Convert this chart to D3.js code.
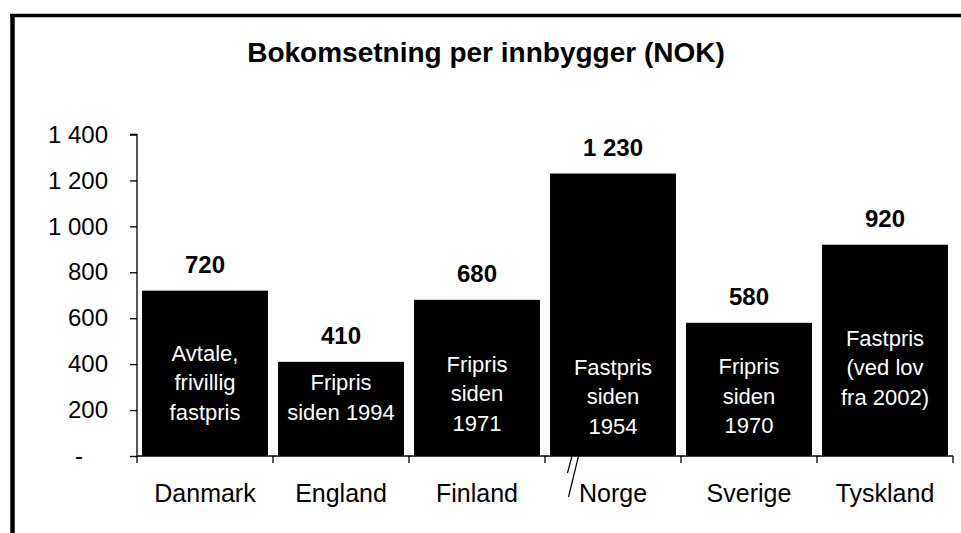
<!DOCTYPE html>
<html>
<head>
<meta charset="utf-8">
<script src="https://cdn.jsdelivr.net/npm/d3@7"></script>
<style>
	body { margin: 0; background: #fff; }
	text { font-family: "Liberation Sans", Arial, sans-serif; }
</style>
</head>
<body>
<script>
var countries = ['Danmark', 'England', 'Finland', 'Norge', 'Sverige', 'Tyskland'];
var sales = [720, 410, 680, 1230, 580, 920];
var valueLabels = ['720', '410', '680', '1 230', '580', '920'];
var notes = [
	['Avtale,', 'frivillig', 'fastpris'],
	['Fripris', 'siden 1994'],
	['Fripris', 'siden', '1971'],
	['Fastpris', 'siden', '1954'],
	['Fripris', 'siden', '1970'],
	['Fastpris', '(ved lov', 'fra 2002)']
];
// value (NOK) where the last line of each note sits
var noteBase = [157, 157, 109, 96, 100, 223];
var yTicks = [0, 200, 400, 600, 800, 1000, 1200, 1400];
var yTickLabels = ['-', '200', '400', '600', '800', '1 000', '1 200', '1 400'];
var title = 'Bokomsetning per innbygger (NOK)';

var width = 961, height = 533;
var svg = d3.select('body').append('svg')
	.attr('width', width).attr('height', height);

// frame (top + left only)
svg.append('line').attr('x1', 10).attr('x2', width).attr('y1', 15.5).attr('y2', 15.5)
	.attr('stroke', '#000').attr('stroke-width', 3.5);
svg.append('line').attr('x1', 12.5).attr('x2', 12.5).attr('y1', 14).attr('y2', height)
	.attr('stroke', '#000').attr('stroke-width', 4.5);

svg.append('text')
	.attr('x', 486).attr('y', 62)
	.attr('text-anchor', 'middle')
	.attr('font-size', 28).attr('font-weight', 'bold')
	.text(title);

var x = d3.scaleBand().domain(countries).range([137, 953])
	.paddingInner(0.074).paddingOuter(0.037);
var y = d3.scaleLinear().domain([0, 1400]).range([456, 134.5]);

// y axis
var yAxis = d3.axisLeft(y).tickValues(yTicks).tickSize(7).tickPadding(22)
	.tickFormat(function(d, i) { return yTickLabels[i]; });
var gy = svg.append('g').attr('transform', 'translate(137,0)').call(yAxis);
gy.select('.domain').attr('d', 'M-7,' + y(1400) + 'H0V' + y(0)).attr('stroke-width', 1.3);
gy.selectAll('.tick line').attr('stroke-width', 1.3);
gy.selectAll('.tick text')
	.attr('font-size', 24).attr('fill', '#000')
	.attr('font-family', '"Liberation Sans", Arial, sans-serif')
	.attr('dx', function(d) { return d === 0 ? -25 : 0; });

// bars
svg.selectAll('rect.bar').data(sales).enter().append('rect')
	.attr('class', 'bar')
	.attr('x', function(d, i) { return x(countries[i]); })
	.attr('width', x.bandwidth())
	.attr('y', function(d) { return y(d); })
	.attr('height', function(d) { return y(0) - y(d); })
	.attr('fill', '#000');

// value labels
svg.selectAll('text.val').data(sales).enter().append('text')
	.attr('class', 'val')
	.attr('x', function(d, i) { return x(countries[i]) + x.bandwidth() / 2; })
	.attr('y', function(d) { return y(d) - 18; })
	.attr('text-anchor', 'middle')
	.attr('font-size', 24).attr('font-weight', 'bold')
	.text(function(d, i) { return valueLabels[i]; });

// notes inside bars
notes.forEach(function(lines, i) {
	var cx = x(countries[i]) + x.bandwidth() / 2;
	var last = y(noteBase[i]);
	lines.forEach(function(line, j) {
		svg.append('text')
			.attr('x', cx)
			.attr('y', last - (lines.length - 1 - j) * 29.5)
			.attr('text-anchor', 'middle')
			.attr('font-size', 22).attr('fill', '#fff')
			.text(line);
	});
});

// x axis
var x0 = x.range()[0], x1 = x.range()[1];
svg.append('line').attr('x1', x0).attr('x2', x1).attr('y1', y(0)).attr('y2', y(0))
	.attr('stroke', '#000').attr('stroke-width', 1.3);
d3.range(countries.length + 1).forEach(function(i) {
	var tx = x0 + i * x.step();
	svg.append('line').attr('x1', tx).attr('x2', tx).attr('y1', y(0)).attr('y2', y(0) + 7)
		.attr('stroke', '#000').attr('stroke-width', 1.3);
});
svg.selectAll('text.cat').data(countries).enter().append('text')
	.attr('class', 'cat')
	.attr('x', function(d) { return x(d) + x.bandwidth() / 2; })
	.attr('y', 502)
	.attr('text-anchor', 'middle')
	.attr('font-size', 25)
	.text(function(d) { return d; });

// break mark next to Norge
var bx = x('Norge') - x.step() * 0.037;
svg.append('line').attr('x1', bx + 27).attr('y1', y(0)).attr('x2', bx + 22.5).attr('y2', y(0) + 17)
	.attr('stroke', '#000').attr('stroke-width', 1.2);
svg.append('line').attr('x1', bx + 33.5).attr('y1', y(0)).attr('x2', bx + 23.5).attr('y2', y(0) + 41)
	.attr('stroke', '#000').attr('stroke-width', 1.2);
</script>
</body>
</html>
